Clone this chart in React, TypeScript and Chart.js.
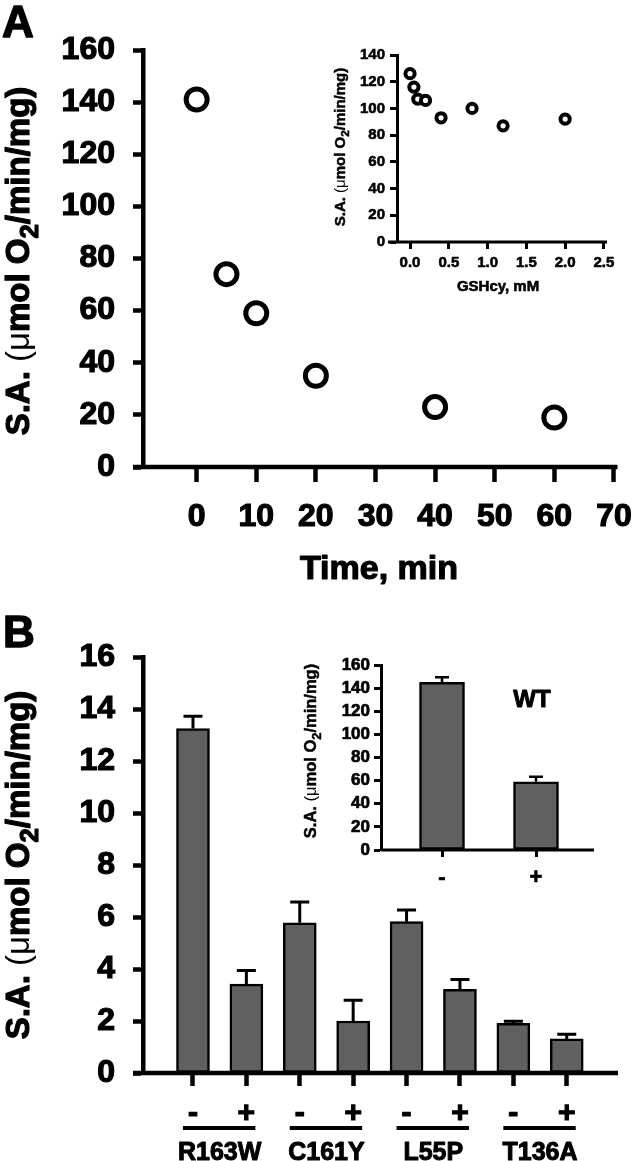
import React, { useEffect, useRef } from "react";
import { Chart, registerables } from "chart.js";

Chart.register(...registerables);

const FAMILY = "'Liberation Sans', Arial, Helvetica, sans-serif";
Chart.defaults.font.family = FAMILY;
Chart.defaults.color = "#000";

// ---- Panel A: activity vs time ----
const timeMinutes = [0, 5, 10, 20, 40, 60];
const activityVsTime = [141, 74, 59, 35, 23, 19];
const timeTicks = [0, 10, 20, 30, 40, 50, 60, 70];
const activityTicksA = [0, 20, 40, 60, 80, 100, 120, 140, 160];

// ---- Panel A inset: activity vs GSHcy ----
const gshcyConc = [0, 0.05, 0.1, 0.2, 0.4, 0.8, 1.2, 2.0];
const activityVsGshcy = [126, 116, 107, 106, 93, 100, 87, 92];
const gshcyTicks = [0, 0.5, 1.0, 1.5, 2.0, 2.5];
const activityTicksInsetA = [0, 20, 40, 60, 80, 100, 120, 140];

// ---- Panel B: mutants ----
const mutantNames = ["R163W", "C161Y", "L55P", "T136A"];
const treatmentLabels = ["-", "+", "-", "+", "-", "+", "-", "+"];
const mutantActivity = [13.25, 3.42, 5.78, 2.0, 5.82, 3.22, 1.91, 1.31];
const mutantError = [0.47, 0.52, 0.8, 0.8, 0.45, 0.38, 0.08, 0.18];
const activityTicksB = [0, 2, 4, 6, 8, 10, 12, 14, 16];

// ---- Panel B inset: WT ----
const wtTreatmentLabels = ["-", "+"];
const wtActivity = [145, 59];
const wtError = [4.3, 4.3];
const activityTicksInsetB = [0, 20, 40, 60, 80, 100, 120, 140, 160];

type Part = { t: string; w?: string; sub?: boolean };
const yTitleParts: Part[] = [
  { t: "S.A. ", w: "bold" },
  { t: "(\u03bc", w: "normal" },
  { t: "mol O", w: "bold" },
  { t: "2", w: "bold", sub: true },
  { t: "/min/mg)", w: "bold" },
];

function drawRotatedRich(ctx: CanvasRenderingContext2D, parts: Part[], baselineX: number, cy: number, size: number, stroke: number) {
  const fontFor = (p: Part) => `${p.w || "bold"} ${p.sub ? size * 0.78 : size}px ${FAMILY}`;
  const widths = parts.map((p) => {
    ctx.font = fontFor(p);
    return ctx.measureText(p.t).width;
  });
  const total = widths.reduce((a, b) => a + b, 0);
  ctx.save();
  ctx.translate(baselineX, cy);
  ctx.rotate(-Math.PI / 2);
  ctx.fillStyle = "#000";
  ctx.strokeStyle = "#000";
  ctx.lineWidth = stroke;
  ctx.lineJoin = "round";
  ctx.textAlign = "left";
  ctx.textBaseline = "alphabetic";
  let x = -total / 2;
  parts.forEach((p, i) => {
    ctx.font = fontFor(p);
    const yy = p.sub ? size * 0.3 : 0;
    ctx.fillText(p.t, x, yy);
    if (stroke > 0 && p.w !== "normal") ctx.strokeText(p.t, x, yy);
    x += widths[i];
  });
  ctx.restore();
}

function drawText(ctx: CanvasRenderingContext2D, text: string, x: number, y: number, size: number, align: CanvasTextAlign, stroke: number) {
  ctx.save();
  ctx.font = `bold ${size}px ${FAMILY}`;
  ctx.fillStyle = "#000";
  ctx.strokeStyle = "#000";
  ctx.lineWidth = stroke;
  ctx.lineJoin = "round";
  ctx.textAlign = align;
  ctx.textBaseline = "alphabetic";
  ctx.fillText(text, x, y);
  if (stroke > 0) ctx.strokeText(text, x, y);
  ctx.restore();
}

function fixedTicks(values: number[]) {
  return (scale: any) => {
    scale.ticks = values.map((v) => ({ value: v }));
  };
}
function fixY(width: number) {
  return (s: any) => {
    s.width = width;
    s.paddingLeft = 0; s.paddingRight = 0; s.paddingTop = 0; s.paddingBottom = 0;
  };
}
function fixX(height: number) {
  return (s: any) => {
    s.height = height;
    s.paddingLeft = 0; s.paddingRight = 0; s.paddingTop = 0; s.paddingBottom = 0;
  };
}

function xAxisLine(ext: number, lw: number) {
  return {
    id: "xAxisLine",
    beforeDatasetsDraw(chart: any) {
      const ctx = chart.ctx;
      const ca = chart.chartArea;
      const y0 = chart.scales.y.getPixelForValue(0);
      ctx.save();
      ctx.strokeStyle = "#000";
      ctx.lineWidth = lw;
      ctx.beginPath();
      ctx.moveTo(ca.left - ext, y0);
      ctx.lineTo(ca.right, y0);
      ctx.stroke();
      ctx.restore();
    },
  };
}

function errorBars(errors: number[], capHalf: number, lw: number) {
  return {
    id: "errorBars",
    afterDatasetsDraw(chart: any) {
      const meta = chart.getDatasetMeta(0);
      const ys = chart.scales.y;
      const ctx = chart.ctx;
      ctx.save();
      ctx.strokeStyle = "#000";
      ctx.lineWidth = lw;
      meta.data.forEach((bar: any, i: number) => {
        const v = chart.data.datasets[0].data[i].y;
        const top = ys.getPixelForValue(v + errors[i]);
        ctx.beginPath();
        ctx.moveTo(bar.x, bar.y);
        ctx.lineTo(bar.x, top);
        ctx.moveTo(bar.x - capHalf, top);
        ctx.lineTo(bar.x + capHalf, top);
        ctx.stroke();
      });
      ctx.restore();
    },
  };
}

function axisScales(o: {
  xmin: number; xmax: number; xticks: number[]; xH: number; xTickLen: number; xFont: number; xPad: number; xCb?: (v: number) => string;
  ymin: number; ymax: number; yticks: number[]; yW: number; yTickLen: number; yFont: number; yPad: number; lw: number; stroke: number;
}) {
  return {
    x: {
      type: "linear",
      min: o.xmin,
      max: o.xmax,
      offset: false,
      afterBuildTicks: fixedTicks(o.xticks),
      afterFit: fixX(o.xH),
      border: { display: false },
      grid: { offset: false, drawOnChartArea: false, drawTicks: true, tickLength: o.xTickLen, tickWidth: o.lw, tickColor: "#000", color: "#000" },
      ticks: {
        font: { size: o.xFont, weight: "bold" }, color: "#000", padding: o.xPad, maxRotation: 0, autoSkip: false, callback: o.xCb,
        textStrokeColor: "#000", textStrokeWidth: o.stroke,
      },
    },
    y: {
      type: "linear",
      min: o.ymin,
      max: o.ymax,
      afterBuildTicks: fixedTicks(o.yticks),
      afterFit: fixY(o.yW),
      border: { display: true, width: o.lw, color: "#000" },
      grid: { drawOnChartArea: false, drawTicks: true, tickLength: o.yTickLen, tickWidth: o.lw, tickColor: "#000", color: "#000" },
      ticks: {
        font: { size: o.yFont, weight: "bold" }, color: "#000", padding: o.yPad, autoSkip: false,
        textStrokeColor: "#000", textStrokeWidth: o.stroke,
      },
    },
  };
}

const baseOptions = {
  responsive: false,
  animation: false,
  events: [],
  plugins: { legend: { display: false }, tooltip: { enabled: false } },
};

// Main panel A (canvas at page 0,0 size 633x600)
function mainAConfig(): any {
  return {
    type: "scatter",
    data: {
      datasets: [{
        data: timeMinutes.map((x, i) => ({ x, y: activityVsTime[i] })),
        pointRadius: 10.5, pointHoverRadius: 10.5, pointBorderWidth: 5,
        pointBorderColor: "#000", pointBackgroundColor: "#fff",
      }],
    },
    options: {
      ...baseOptions,
      layout: { padding: { left: 0, top: 50, right: 15, bottom: 0 } },
      scales: axisScales({
        xmin: -9, xmax: 70.6, xticks: timeTicks, xH: 133, xTickLen: 15, xFont: 32, xPad: 16,
        ymin: 0, ymax: 160, yticks: activityTicksA, yW: 143, yTickLen: 10, yFont: 32, yPad: 18, lw: 4.5, stroke: 1.2,
      }),
    },
    plugins: [
      xAxisLine(10, 4.5),
      {
        id: "textA",
        afterDraw(chart: any) {
          const ctx = chart.ctx;
          drawText(ctx, "A", 2, 36.5, 44, "left", 1.5);
          drawText(ctx, "Time, min", 379, 579, 34, "center", 1.2);
          drawRotatedRich(ctx, yTitleParts, 28.5, 261, 33, 1.2);
        },
      },
    ],
  };
}

// Inset A (canvas at page 320,40 size 300x265)
function insetAConfig(): any {
  return {
    type: "scatter",
    data: {
      datasets: [{
        data: gshcyConc.map((x, i) => ({ x, y: activityVsGshcy[i] })),
        pointRadius: 4.6, pointHoverRadius: 4.6, pointBorderWidth: 4,
        pointBorderColor: "#000", pointBackgroundColor: "#fff",
      }],
    },
    options: {
      ...baseOptions,
      layout: { padding: { left: 0, top: 15, right: 13, bottom: 0 } },
      scales: axisScales({
        xmin: -0.168, xmax: 2.54, xticks: gshcyTicks, xH: 63, xTickLen: 7, xFont: 15, xPad: 5,
        xCb: (v: number) => Number(v).toFixed(1),
        ymin: 0, ymax: 140, yticks: activityTicksInsetA, yW: 77, yTickLen: 7, yFont: 15, yPad: 5, lw: 3, stroke: 0.6,
      }),
    },
    plugins: [
      xAxisLine(9, 3),
      {
        id: "textInsetA",
        afterDraw(chart: any) {
          const ctx = chart.ctx;
          drawText(ctx, "GSHcy, mM", 178, 251, 15, "center", 0.6);
          drawRotatedRich(ctx, yTitleParts, 24.5, 107, 15, 0.5);
        },
      },
    ],
  };
}

// Main panel B (canvas at page 0,600 size 633x561)
function mainBConfig(): any {
  return {
    type: "bar",
    data: {
      datasets: [{
        data: mutantActivity.map((y, i) => ({ x: i, y })),
        backgroundColor: "#606060", borderColor: "#000", borderWidth: 2.5, borderSkipped: false,
        barThickness: 33,
      }],
    },
    options: {
      ...baseOptions,
      layout: { padding: { left: 0, top: 57, right: 15, bottom: 0 } },
      scales: axisScales({
        xmin: -0.936, xmax: 7.96, xticks: treatmentLabels.map((_, i) => i), xH: 88, xTickLen: 13, xFont: 30, xPad: 10,
        xCb: (v: number) => treatmentLabels[v],
        ymin: 0, ymax: 16, yticks: activityTicksB, yW: 143, yTickLen: 10, yFont: 32, yPad: 18, lw: 4.5, stroke: 1.2,
      }),
    },
    plugins: [
      xAxisLine(10, 4.5),
      errorBars(mutantError, 9.5, 3),
      {
        id: "textB",
        afterDraw(chart: any) {
          const ctx = chart.ctx;
          const xs = chart.scales.x;
          drawText(ctx, "B", 3, 46.5, 44, "left", 1.5);
          drawRotatedRich(ctx, yTitleParts, 28.5, 265, 33, 1.2);
          mutantNames.forEach((name, g) => {
            const x1 = xs.getPixelForValue(2 * g) - 10;
            const x2 = xs.getPixelForValue(2 * g + 1) + 9;
            ctx.save();
            ctx.strokeStyle = "#000";
            ctx.lineWidth = 4;
            ctx.beginPath();
            ctx.moveTo(x1, 528);
            ctx.lineTo(x2, 528);
            ctx.stroke();
            ctx.restore();
            drawText(ctx, name, (xs.getPixelForValue(2 * g) + xs.getPixelForValue(2 * g + 1)) / 2, 560, 25, "center", 1);
          });
        },
      },
    ],
  };
}

// Inset B (canvas at page 290,640 size 320x260)
function insetBConfig(): any {
  return {
    type: "bar",
    data: {
      datasets: [{
        data: wtActivity.map((y, i) => ({ x: i, y })),
        backgroundColor: "#606060", borderColor: "#000", borderWidth: 2.5, borderSkipped: false,
        barThickness: 45,
      }],
    },
    options: {
      ...baseOptions,
      layout: { padding: { left: 0, top: 25, right: 16, bottom: 0 } },
      scales: axisScales({
        xmin: -0.649, xmax: 1.617, xticks: wtTreatmentLabels.map((_, i) => i), xH: 50, xTickLen: 7, xFont: 22, xPad: 8,
        xCb: (v: number) => wtTreatmentLabels[v],
        ymin: 0, ymax: 160, yticks: activityTicksInsetB, yW: 91, yTickLen: 7, yFont: 17, yPad: 4, lw: 3, stroke: 0.7,
      }),
    },
    plugins: [
      xAxisLine(0, 3),
      errorBars(wtError, 7, 2.5),
      {
        id: "textInsetB",
        afterDraw(chart: any) {
          const ctx = chart.ctx;
          drawText(ctx, "WT", 242, 66.5, 24, "center", 1);
          drawRotatedRich(ctx, yTitleParts, 26, 111, 16.5, 0.5);
        },
      },
    ],
  };
}

function ChartBox(props: { left: number; top: number; width: number; height: number; make: () => any }) {
  const ref = useRef<HTMLCanvasElement>(null);
  useEffect(() => {
    const chart = new Chart(ref.current as HTMLCanvasElement, props.make());
    return () => chart.destroy();
  }, []);
  return (
    <canvas
      ref={ref}
      width={props.width}
      height={props.height}
      style={{ position: "absolute", left: props.left, top: props.top, width: props.width, height: props.height }}
    />
  );
}

export default function App() {
  return (
    <div style={{ position: "absolute", left: 0, top: 0, width: 633, height: 1161, background: "#fff", overflow: "hidden" }}>
      <ChartBox left={0} top={0} width={633} height={600} make={mainAConfig} />
      <ChartBox left={0} top={600} width={633} height={561} make={mainBConfig} />
      <ChartBox left={320} top={40} width={300} height={265} make={insetAConfig} />
      <ChartBox left={290} top={640} width={320} height={260} make={insetBConfig} />
    </div>
  );
}
